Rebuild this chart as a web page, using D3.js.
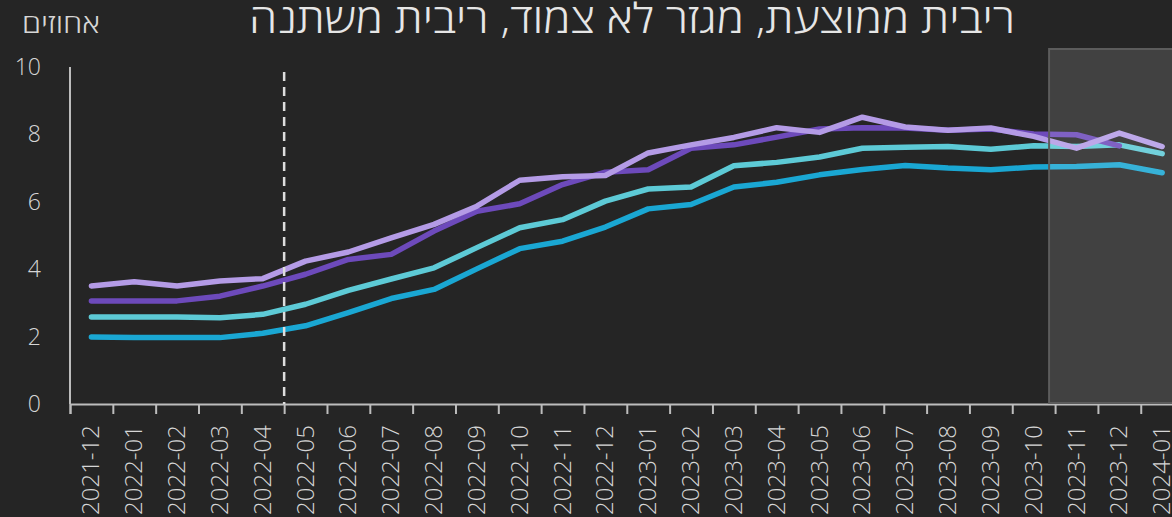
<!DOCTYPE html>
<html>
<head>
<meta charset="utf-8">
<script src="https://cdn.jsdelivr.net/npm/d3@7"></script>
<style>
    html, body { margin: 0; padding: 0; background: #252525; }
    svg { display: block; }
</style>
</head>
<body>
<div id="chart"></div>
<script>
    "use strict";

    var months = ["2021-12", "2022-01", "2022-02", "2022-03", "2022-04", "2022-05", "2022-06",
        "2022-07", "2022-08", "2022-09", "2022-10", "2022-11", "2022-12", "2023-01", "2023-02",
        "2023-03", "2023-04", "2023-05", "2023-06", "2023-07", "2023-08", "2023-09", "2023-10",
        "2023-11", "2023-12", "2024-01"];

    var blueSeries = [1.99, 1.97, 1.97, 1.97, 2.10, 2.32, 2.71, 3.13, 3.40, 4.01, 4.61, 4.83, 5.25,
        5.79, 5.92, 6.44, 6.58, 6.80, 6.96, 7.08, 7.00, 6.95, 7.03, 7.05, 7.10, 6.86];
    var cyanSeries = [2.58, 2.58, 2.58, 2.56, 2.66, 2.96, 3.37, 3.71, 4.04, 4.64, 5.23, 5.47, 6.02,
        6.38, 6.44, 7.07, 7.17, 7.33, 7.59, 7.62, 7.64, 7.56, 7.66, 7.64, 7.69, 7.43];
    var purpleSeries = [3.06, 3.06, 3.06, 3.20, 3.50, 3.85, 4.29, 4.44, 5.13, 5.72, 5.94, 6.51, 6.88,
        6.95, 7.59, 7.69, 7.92, 8.16, 8.20, 8.19, 8.12, 8.16, 8.01, 7.99, 7.66, null];
    var lilacSeries = [3.50, 3.63, 3.50, 3.65, 3.72, 4.24, 4.51, 4.93, 5.33, 5.87, 6.64, 6.74, 6.78,
        7.45, 7.69, 7.91, 8.20, 8.06, 8.51, 8.22, 8.12, 8.19, 7.94, 7.59, 8.04, 7.64];

    var yTicks = [0, 2, 4, 6, 8, 10];
    var title = "ריבית ממוצעת, מגזר לא צמוד, ריבית משתנה";
    var unitLabel = "אחוזים";
    var markerMonth = "2022-05";
    var shadeMonth = "2023-10";

    var W = 1172, H = 517;
    var plotLeft = 70, plotTop = 67, plotBottom = 404;
    var bw = 42.83;
    var font = "'Open Sans', 'DejaVu Sans', sans-serif";
    var textColor = "#d6d6d6";

    var svg = d3.select("#chart").append("svg")
        .attr("width", W)
        .attr("height", H);

    svg.append("rect").attr("width", W).attr("height", H).attr("fill", "#252525");

    var x = d3.scaleBand()
        .domain(months)
        .range([plotLeft, plotLeft + bw * months.length])
        .padding(0);

    var y = d3.scaleLinear()
        .domain([0, 10])
        .range([plotBottom, plotTop]);

    // title + unit
    svg.append("text")
        .text(title)
        .attr("x", 632)
        .attr("y", 33)
        .attr("text-anchor", "middle")
        .attr("direction", "rtl")
        .attr("textLength", 766)
        .attr("lengthAdjust", "spacingAndGlyphs")
        .attr("font-family", font)
        .attr("font-weight", 300)
        .attr("font-size", 41)
        .attr("fill", "#e6e6e6");

    svg.append("text")
        .text(unitLabel)
        .attr("x", 100)
        .attr("y", 33)
        .attr("text-anchor", "start")
        .attr("direction", "rtl")
        .attr("textLength", 78)
        .attr("lengthAdjust", "spacingAndGlyphs")
        .attr("font-family", font)
        .attr("font-weight", 300)
        .attr("font-size", 27)
        .attr("fill", textColor);

    // y labels
    svg.selectAll(".ylab")
        .data(yTicks)
        .enter()
        .append("text")
        .attr("class", "ylab")
        .text(function (d) { return d; })
        .attr("x", 41)
        .attr("y", function (d) { return y(d) + 8; })
        .attr("text-anchor", "end")
        .attr("font-family", font)
        .attr("font-weight", 300)
        .attr("font-size", 23)
        .attr("fill", textColor);

    // axes
    svg.append("line")
        .attr("x1", plotLeft).attr("x2", plotLeft)
        .attr("y1", plotTop).attr("y2", plotBottom)
        .attr("stroke", "#bdbdbd").attr("stroke-width", 2);

    var edges = d3.scaleLinear().domain([0, months.length]).range(x.range());
    var xAxis = d3.axisBottom(edges)
        .tickValues(d3.range(0, months.length + 1))
        .tickSize(10)
        .tickFormat("");

    var gx = svg.append("g")
        .attr("transform", "translate(0," + plotBottom + ")")
        .call(xAxis);
    gx.select(".domain").attr("stroke", "#bdbdbd").attr("stroke-width", 2);
    gx.selectAll(".tick line").attr("stroke", "#bdbdbd").attr("stroke-width", 2);

    svg.selectAll(".xlab")
        .data(months)
        .enter()
        .append("text")
        .attr("class", "xlab")
        .text(function (d) { return d; })
        .attr("transform", function (d) {
            return "translate(" + (x(d) + bw / 2 + 8) + "," + (plotBottom + 21) + ") rotate(-90)";
        })
        .attr("text-anchor", "end")
        .attr("font-family", font)
        .attr("font-weight", 300)
        .attr("font-size", 24)
        .attr("fill", textColor);

    // lines
    var line = d3.line()
        .defined(function (d) { return d != null; })
        .x(function (d, i) { return x(months[i]) + bw / 2; })
        .y(function (d) { return y(d); });

    var series = [
        { values: blueSeries, color: "#1aa7d3" },
        { values: cyanSeries, color: "#5dcad6" },
        { values: purpleSeries, color: "#6d4abb" },
        { values: lilacSeries, color: "#b49be6" }
    ];

    svg.selectAll(".series")
        .data(series)
        .enter()
        .append("path")
        .attr("class", "series")
        .attr("d", function (d) { return line(d.values); })
        .attr("fill", "none")
        .attr("stroke", function (d) { return d.color; })
        .attr("stroke-width", 5.5)
        .attr("stroke-linejoin", "round")
        .attr("stroke-linecap", "round");

    // dashed marker
    svg.append("line")
        .attr("x1", x(markerMonth)).attr("x2", x(markerMonth))
        .attr("y1", 72).attr("y2", plotBottom)
        .attr("stroke", "#dddddd")
        .attr("stroke-width", 2.5)
        .attr("stroke-dasharray", "9,6");

    // forecast shading
    var sx = x(shadeMonth) + bw * 0.86;
    svg.append("rect")
        .attr("x", sx)
        .attr("y", 49)
        .attr("width", W - sx + 10)
        .attr("height", plotBottom - 49 - 1)
        .attr("fill", "#ffffff")
        .attr("fill-opacity", 0.13)
        .attr("stroke", "#5c5c5c")
        .attr("stroke-width", 2);
</script>
</body>
</html>
